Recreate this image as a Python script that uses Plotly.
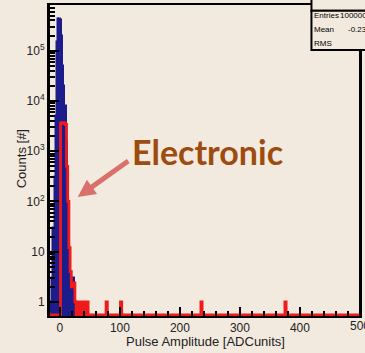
import numpy as np
import plotly.graph_objects as go

# ---------------- data ----------------
BIN_WIDTH = 2  # ADC units

blue_centers = [-14, -12, -10, -8, -6, -4, -2, 0, 2, 4, 6, 8, 10, 12, 14, 16, 18, 20, 22, 24, 26, 28]
blue_counts = [1, 3, 30, 300, 5000, 150000, 430000, 430000, 400000, 200000, 50000, 20000,
               8000, 1500, 200, 30, 5, 3, 2, 3, 2, 1]

red_centers = [2, 4, 6, 8, 10, 12, 14, 16, 18, 20, 22, 24, 26, 30, 34, 38, 42, 46, 78, 102, 236, 376]
red_counts = [3600, 3700, 3700, 3600, 3400, 500, 100, 12, 4, 2, 2.4, 2.4, 1, 1, 1, 1, 1, 1, 1, 1, 1, 1]

x_tick_vals = [0, 100, 200, 300, 400]
x_edge_tick = "500"
y_tick_vals = [1, 10, 100, 1000, 10000, 100000]
y_tick_text = ["1", "10", "10<sup>2</sup>", "10<sup>3</sup>", "10<sup>4</sup>", "10<sup>5</sup>"]

stats_labels = ["Entries", "Mean", "RMS"]
stats_values = ["1000000", "-0.2317", "3.412"]

X_RANGE = [-16.5, 498.5]
LOG_Y_RANGE = [-0.28, 5.91]

# ---------------- build full red histogram (zero bins drawn at frame bottom) ----------------
edges = np.arange(-17, 501, BIN_WIDTH)
centers = edges[:-1] + BIN_WIDTH / 2
red_full = np.zeros(len(centers))
for c, v in zip(red_centers, red_counts):
    red_full[np.argmin(np.abs(centers - c))] = v
floor = 10 ** (LOG_Y_RANGE[0] + 0.02)
red_plot = np.where(red_full > 0, red_full, floor)
red_x = np.append(edges[:-1], edges[-1])
red_y = np.append(red_plot, red_plot[-1])

BG = "#f3eadf"
NAVY = "#1c1c8c"
RED = "#f01a1a"

fig = go.Figure()
fig.add_trace(go.Bar(
    x=blue_centers, y=blue_counts, width=BIN_WIDTH,
    marker=dict(color=NAVY, line=dict(color=NAVY, width=1.5)),
    showlegend=False, hoverinfo="skip"))
fig.add_trace(go.Scatter(
    x=red_x, y=red_y, mode="lines", line=dict(color=RED, width=2.8, shape="hv"),
    showlegend=False, hoverinfo="skip"))

# plot area in pixels: x 50..362, y 5..316
def px(x):
    return (x - 50) / 312

def py(y):
    return (316 - y) / 311

shapes = [
    # title box (mostly cut off)
    dict(type="rect", xref="paper", yref="paper", x0=px(314), x1=px(372), y0=py(10.7), y1=py(-6),
         fillcolor=BG, line=dict(color="black", width=2), layer="above"),
    # stats box
    dict(type="rect", xref="paper", yref="paper", x0=px(314), x1=px(372), y0=py(50), y1=py(10.7),
         fillcolor=BG, line=dict(color="black", width=2), layer="above"),
]

annotations = []
stat_font = dict(family="Liberation Sans", size=8, color="black")
for i, lab in enumerate(stats_labels):
    yy = 16 + i * 14
    annotations.append(dict(xref="paper", yref="paper", x=px(315), y=py(yy), text=lab,
                            showarrow=False, xanchor="left", yanchor="middle", font=stat_font))
val_x = [341, 349, 367]
for i, val in enumerate(stats_values):
    yy = 16 + i * 14
    annotations.append(dict(xref="paper", yref="paper", x=px(val_x[i]), y=py(yy), text=val,
                            showarrow=False, xanchor="left", yanchor="middle", font=stat_font))
annotations.append(dict(xref="paper", yref="paper", x=px(338), y=py(4), text="Ch1",
                        showarrow=False, xanchor="left", yanchor="bottom",
                        font=dict(family="Liberation Sans", size=11, color="black")))

# last x tick label, partly cut at the right edge
annotations.append(dict(xref="paper", yref="paper", x=px(351), y=py(326), text=x_edge_tick,
                        showarrow=False, xanchor="left", yanchor="middle",
                        font=dict(family="Liberation Sans", size=12, color="#222222")))

# axis titles
annotations.append(dict(xref="paper", yref="paper", x=px(207), y=py(341), text="Pulse Amplitude [ADCunits]",
                        showarrow=False, xanchor="center", yanchor="middle",
                        font=dict(family="Liberation Sans", size=13, color="#222222")))
annotations.append(dict(xref="paper", yref="paper", x=px(21), y=py(159), text="Counts [#]",
                        showarrow=False, xanchor="center", yanchor="middle", textangle=-90,
                        font=dict(family="Liberation Sans", size=13, color="#222222")))

# callout
annotations.append(dict(xref="paper", yref="paper", x=px(209), y=py(151), text="<b>Electronic</b>",
                        showarrow=False, xanchor="center", yanchor="middle",
                        font=dict(family="Lato", size=34, color="#9e4b0f")))
annotations.append(dict(xref="paper", yref="paper", x=px(78), y=py(197), text="",
                        showarrow=True, ax=52, ay=-37, arrowhead=2, arrowsize=0.7,
                        arrowwidth=5, arrowcolor="#d8706b"))

minor_y = [m * 10 ** k for k in range(0, 6) for m in range(2, 10)]

fig.update_layout(
    width=365, height=353,
    margin=dict(l=50, r=3, t=5, b=37),
    paper_bgcolor=BG, plot_bgcolor=BG,
    bargap=0,
    shapes=shapes, annotations=annotations,
    xaxis=dict(range=X_RANGE, tickvals=x_tick_vals, ticks="inside", ticklen=9, tickwidth=2,
               tickcolor="black", showline=True, linecolor="black", linewidth=2, mirror=True,
               showgrid=False, zeroline=False,
               tickfont=dict(family="Liberation Sans", size=12, color="#222222"),
               minor=dict(dtick=20, tick0=0, ticks="inside", ticklen=5, tickwidth=2,
                          tickcolor="black", showgrid=False)),
    yaxis=dict(type="log", range=LOG_Y_RANGE, tickvals=y_tick_vals, ticktext=y_tick_text,
               ticks="inside", ticklen=9, tickwidth=2, tickcolor="black",
               showline=True, linecolor="black", linewidth=3, mirror=True,
               showgrid=False, zeroline=False,
               tickfont=dict(family="Liberation Sans", size=12, color="#222222"),
               minor=dict(tickvals=minor_y, ticks="inside", ticklen=5, tickwidth=2,
                          tickcolor="black", showgrid=False)),
)

fig.write_html("out.html")
